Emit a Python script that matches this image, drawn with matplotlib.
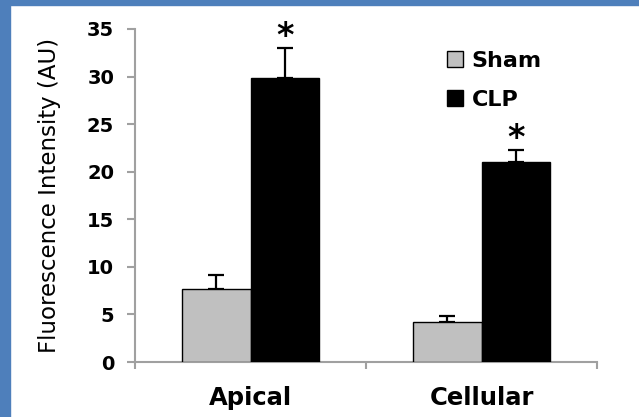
import matplotlib
matplotlib.use("Agg")
import matplotlib.pyplot as plt
import numpy as np
from matplotlib.patches import Rectangle

categories = ["Apical", "Cellular"]
series = ["Sham", "CLP"]
sham_vals = [7.64, 4.24]
sham_err = [1.55, 0.63]
clp_vals = [29.9, 21.0]
clp_err = [3.1, 1.3]
yticks = [0, 5, 10, 15, 20, 25, 30, 35]
ylabel = "Fluorescence Intensity (AU)"

W, H = 639, 417
fig = plt.figure(figsize=(W / 100, H / 100), dpi=100)
fig.patch.set_facecolor("white")

# blue frame on left and top
blue = "#4E7FBB"
fig.add_artist(Rectangle((0, 0), 10 / W, 1, transform=fig.transFigure, color=blue, zorder=0))
fig.add_artist(Rectangle((0, 1 - 5 / H), 1, 5 / H, transform=fig.transFigure, color=blue, zorder=0))

ax = fig.add_axes([135 / W, 1 - 362 / H, (597 - 135) / W, (362 - 29) / H])
x = np.arange(len(categories))
bw = 0.295
ekw = dict(ecolor="black", elinewidth=1.6, capsize=5.8, capthick=1.6)
ax.bar(x - bw / 2, sham_vals, bw, color="#C0C0C0", edgecolor="black", linewidth=1.0,
       label=series[0], zorder=3)
ax.errorbar(x - bw / 2, sham_vals, yerr=[np.zeros(2), sham_err], fmt="none", zorder=2, **ekw)
ax.bar(x + bw / 2, clp_vals, bw, color="black", edgecolor="black", linewidth=1.0,
       label=series[1], zorder=3)
ax.errorbar(x + bw / 2, clp_vals, yerr=[np.zeros(2), clp_err], fmt="none", zorder=2, **ekw)

for xi, v, e in zip(x, clp_vals, clp_err):
    ax.text(xi + bw / 2, v + e - 0.55, "*", ha="center", va="bottom",
            fontsize=24, fontweight="bold", family="DejaVu Sans")

ax.set_xlim(-0.5, 1.5)
ax.set_ylim(0, 35)
ax.set_yticks(yticks)
ax.set_yticklabels([str(t) for t in yticks], fontsize=14, fontweight="bold", family="DejaVu Sans")
ax.set_xticks([-0.5, 0.5, 1.5])
ax.set_xticklabels(["", "", ""])
ax.set_xticks(x, minor=True)
ax.set_xticklabels(categories, minor=True, fontsize=17.5, fontweight="bold", family="DejaVu Sans")
ax.tick_params(axis="x", which="minor", length=0, pad=17)
ax.tick_params(axis="x", which="major", direction="out", length=5, width=1.5, color="#a0a0a0")
ax.tick_params(axis="y", direction="out", length=6, width=1.5, color="#a0a0a0", pad=9)
for s in ["top", "right"]:
    ax.spines[s].set_visible(False)
for s in ["left", "bottom"]:
    ax.spines[s].set_color("#a0a0a0")
    ax.spines[s].set_linewidth(1.5)

ax.set_ylabel(ylabel, fontsize=16.5, family="DejaVu Sans", labelpad=19)

leg = ax.legend(loc="upper left", bbox_to_anchor=(447 / W, 1 - 51 / H),
                bbox_transform=fig.transFigure, frameon=False,
                prop={"family": "DejaVu Sans", "weight": "bold", "size": 16},
                handlelength=0.7, handleheight=0.7, handletextpad=0.4,
                labelspacing=0.85, borderpad=0, borderaxespad=0)

fig.savefig("out.png", dpi=100, facecolor="white")
